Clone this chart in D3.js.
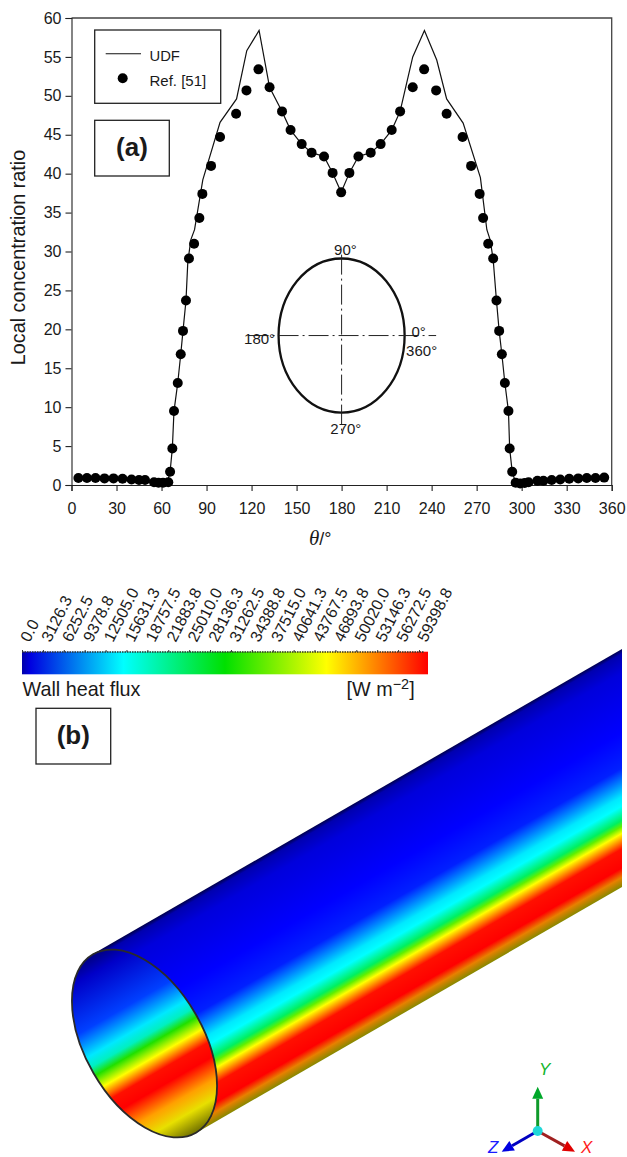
<!DOCTYPE html>
<html>
<head>
<meta charset="utf-8">
<script src="https://cdn.jsdelivr.net/npm/d3@7"></script>
<style>
  body { margin: 0; background: #fff; }
  text { font-family: "Liberation Sans", Arial, sans-serif; fill: #1a1a1a; }
</style>
</head>
<body>
<div id="chart"></div>
<script>
// Dots, Ref. [51]
const refTheta = [4.6, 10.3, 16, 22, 28, 34, 40, 45, 49, 55, 58, 61, 64.5, 65.7, 67.2, 68.3, 70.8, 72.8, 74.3, 76.3,
  78.3, 81.7, 85.2, 87.2, 93, 99, 109.7, 116.6, 124.6, 132, 140.3, 146, 153.4, 160, 168.3, 174, 179.7,
  185.2, 191.2, 199.4, 206, 213.4, 219, 227.4, 235, 243, 250, 260.6, 266.3, 272, 274.3, 277.7, 281,
  283.2, 285, 286.8, 288.8, 291.2, 292, 293.7, 296, 299, 302, 304.6, 310.5, 314.5, 320, 325.7, 331.7, 337.7, 343.4, 349.2, 355];
const refRatio = [0.9, 0.9, 0.9, 0.85, 0.85, 0.8, 0.7, 0.65, 0.65, 0.35, 0.3, 0.3, 0.35, 1.7, 4.7, 9.5, 13.1, 16.8, 19.8, 23.7,
  29.1, 31, 34.3, 37.4, 41, 44.7, 47.7, 50.7, 53.4, 51.1, 48, 45.6, 43.8, 42.7, 42.2, 40.1, 37.6,
  40.1, 42.2, 42.7, 43.8, 45.6, 48, 51.1, 53.4, 50.7, 47.7, 44.7, 41, 37.4, 34.3, 31, 29.1,
  23.7, 19.8, 16.8, 13.1, 9.5, 4.7, 1.7, 0.3, 0.2, 0.25, 0.35, 0.55, 0.55, 0.65, 0.7, 0.8, 0.85, 0.9, 0.9, 0.95];

// Line, UDF
const udfTheta = [5, 50, 58, 64, 65.7, 67.2, 68.3, 70.8, 72.8, 74.3, 76.3, 77.5, 79.5, 82, 87.5, 99, 110, 116.8, 125,
  132, 140.3, 146, 153.4, 160, 168.3, 174, 179.7, 185.2, 191.2, 199.4, 206, 213.4, 219, 220.8, 227.4, 235.2,
  243.4, 250, 261, 272.5, 276.8, 279, 281, 283.2, 285, 286.8, 288.8, 291.2, 292, 293.7, 296, 302, 310, 355];
const udfRatio = [0.9, 0.6, 0.3, 0.4, 1.7, 4.7, 9.5, 13.1, 16.8, 19.8, 23.7, 28.6, 31.5, 32.8, 39.2, 46.6, 49.6, 55.8, 58.4,
  51.1, 48, 45.6, 43.8, 42.7, 42.2, 40.1, 37.6, 40.1, 42.2, 42.7, 43.8, 45.6, 48, 49.5, 55, 58.4,
  54.6, 49.6, 46.5, 39.5, 32.8, 31.5, 29, 23.7, 19.8, 16.8, 13.1, 9.5, 4.7, 1.7, 0.3, 0.3, 0.55, 0.95];

const xTicks = d3.range(0, 361, 30);
const yTicks = d3.range(0, 61, 5);

// Legend values of the colour bar
const fluxTicks = ["0.0", "3126.3", "6252.5", "9378.8", "12505.0", "15631.3", "18757.5", "21883.8", "25010.0", "28136.3",
  "31262.5", "34388.8", "37515.0", "40641.3", "43767.5", "46893.8", "50020.0", "53146.3", "56272.5", "59398.8"];

const width = 627;
const height = 1157;
const svg = d3.select("#chart").append("svg")
  .attr("width", width)
  .attr("height", height)
  .style("display", "block");
const defs = svg.append("defs");

// ---------- panel (a) ----------
const x = d3.scaleLinear().domain([0, 360]).range([71.5, 611.7]);
const y = d3.scaleLinear().domain([0, 60]).range([485, 18]);

svg.append("path")
  .attr("d", `M${x(0)},${y(60)}H${x(360)}V${y(0)}`)
  .attr("fill", "none")
  .attr("stroke", "#444")
  .attr("stroke-width", 1.3);

const xAxis = svg.append("g")
  .attr("transform", `translate(0,${y(0)})`)
  .call(d3.axisBottom(x).tickValues(xTicks).tickSize(6).tickPadding(12).tickFormat(d3.format("d")));
const yAxis = svg.append("g")
  .attr("transform", `translate(${x(0)},0)`)
  .call(d3.axisLeft(y).tickValues(yTicks).tickSize(6).tickPadding(4).tickFormat(d3.format("d")));
[xAxis, yAxis].forEach(a => {
  a.attr("font-family", null).attr("font-size", null);
  a.selectAll("text").style("font-size", "16px");
  a.selectAll("line, path").attr("stroke", "#222").attr("stroke-width", 1.1);
});

svg.append("text")
  .attr("transform", `translate(24.5,257.5) rotate(-90)`)
  .attr("text-anchor", "middle")
  .style("font-size", "19.8px")
  .text("Local concentration ratio");

const xLabel = svg.append("text").attr("x", 309).attr("y", 545).style("font-size", "18px");
xLabel.append("tspan").style("font-family", "'Liberation Serif', serif").style("font-style", "italic").style("font-size", "21px").text("θ");
xLabel.append("tspan").text("/°");

// inset: tube section
const insetCentre = [180, 19.2];
const insetRadius = [42, 9.9];
const chain = "20 4 2 4";
svg.append("ellipse")
  .attr("cx", x(insetCentre[0]))
  .attr("cy", y(insetCentre[1]))
  .attr("rx", x(insetRadius[0]) - x(0))
  .attr("ry", y(0) - y(insetRadius[1]))
  .attr("fill", "none")
  .attr("stroke", "#111")
  .attr("stroke-width", 2.3);
svg.append("line")
  .attr("x1", x(118)).attr("x2", x(243))
  .attr("y1", y(insetCentre[1])).attr("y2", y(insetCentre[1]))
  .attr("stroke", "#222").attr("stroke-dasharray", chain);
svg.append("line")
  .attr("x1", x(180)).attr("x2", x(180))
  .attr("y1", y(29.6)).attr("y2", y(6.6))
  .attr("stroke", "#222").attr("stroke-dasharray", chain);
const insetLabels = [["90°", 175, 29.6], ["180°", 115, 18.1], ["0°", 226.5, 19.0], ["360°", 223, 16.6], ["270°", 172.5, 6.6]];
svg.selectAll(".inset-label")
  .data(insetLabels)
  .join("text")
  .attr("class", "inset-label")
  .attr("x", d => x(d[1]))
  .attr("y", d => y(d[2]))
  .style("font-size", "15px")
  .text(d => d[0]);

// curves
const line = d3.line().x(d => x(d[0])).y(d => y(d[1]));
svg.append("path")
  .attr("d", line(udfTheta.map((t, i) => [t, udfRatio[i]])))
  .attr("fill", "none")
  .attr("stroke", "#111")
  .attr("stroke-width", 1.2);
svg.selectAll(".dot")
  .data(refTheta.map((t, i) => [t, refRatio[i]]))
  .join("circle")
  .attr("class", "dot")
  .attr("cx", d => x(d[0]))
  .attr("cy", d => y(d[1]))
  .attr("r", 5)
  .attr("fill", "#000");

// legend and panel boxes
function box(x0, y0, w, h) {
  svg.append("rect").attr("x", x0).attr("y", y0).attr("width", w).attr("height", h)
    .attr("fill", "none").attr("stroke", "#222").attr("stroke-width", 1.3);
}
box(94.7, 30, 126, 73.3);
svg.append("line").attr("x1", 105.7).attr("x2", 141).attr("y1", 53.7).attr("y2", 53.7).attr("stroke", "#111").attr("stroke-width", 1.1);
svg.append("text").attr("x", 149.5).attr("y", 61).style("font-size", "14.8px").text("UDF");
svg.append("circle").attr("cx", 122.7).attr("cy", 78.3).attr("r", 5).attr("fill", "#000");
svg.append("text").attr("x", 149.5).attr("y", 86).style("font-size", "15px").text("Ref. [51]");

box(94.7, 120.3, 74.6, 55.7);
svg.append("text").attr("x", 132).attr("y", 156).attr("text-anchor", "middle")
  .style("font-size", "26px").style("font-weight", "bold").text("(a)");

// ---------- panel (b) ----------
box(36, 708.3, 74.7, 55.7);
svg.append("text").attr("x", 73.3).attr("y", 744).attr("text-anchor", "middle")
  .style("font-size", "26px").style("font-weight", "bold").text("(b)");

// colour bar
const fluxMax = +fluxTicks[fluxTicks.length - 1];
const fx = d3.scaleLinear().domain([0, fluxMax]).range([22, 419]);
const barEnd = fx.invert(428);
const flux = d3.scaleLinear()
  .domain([0, 0.02, 0.25, 0.5, 0.75, 1].map(f => f * barEnd))
  .range(["#0000a8", "#0000e0", "#00ffff", "#00e000", "#ffff00", "#ff0000"]);

const barGrad = defs.append("linearGradient").attr("id", "barGrad");
barGrad.selectAll("stop")
  .data(flux.domain())
  .join("stop")
  .attr("offset", d => d / barEnd)
  .attr("stop-color", d => flux(d));
svg.append("rect")
  .attr("x", fx(0)).attr("y", 651.7)
  .attr("width", fx(barEnd) - fx(0)).attr("height", 22.6)
  .attr("fill", "url(#barGrad)");

const fluxAxis = svg.append("g")
  .attr("transform", "translate(0,652)")
  .call(d3.axisTop(fx).tickValues(fluxTicks.map(Number)).tickSize(2).tickFormat((d, i) => fluxTicks[i]));
fluxAxis.attr("font-family", null).attr("font-size", null);
fluxAxis.select(".domain").attr("d", "M22,0H424").attr("stroke", "#333").attr("stroke-width", 1.4).attr("stroke-dasharray", "1.5 1");
fluxAxis.selectAll("line").attr("stroke", "#333");
fluxAxis.selectAll("text")
  .attr("text-anchor", "start")
  .attr("dy", "0")
  .attr("x", 0).attr("y", 0)
  .attr("transform", "translate(7,-9) rotate(-63)")
  .style("font-size", "16px");

svg.append("text").attr("x", 22.5).attr("y", 696).style("font-size", "19.8px").text("Wall heat flux");
const unit = svg.append("text").attr("x", 346.5).attr("y", 696).style("font-size", "19.8px");
unit.append("tspan").text("[W m");
unit.append("tspan").attr("dy", -7).style("font-size", "14.5px").text("−2");
unit.append("tspan").attr("dy", 7).text("]");

// tube, shown as a picture: bands run along the axis at 30 degrees
const outerStops = [
  [0, "#000050"], [0.02, "#0000b0"], [0.1, "#0000dc"], [0.35, "#0000ff"], [0.5, "#0020ff"], [0.62, "#00e8ff"],
  [0.66, "#00ffff"], [0.72, "#00f060"], [0.745, "#60f000"], [0.775, "#ffff00"], [0.84, "#ff1000"], [0.92, "#ff0000"],
  [0.96, "#e88000"], [1, "#888800"]];
const innerStops = [
  [0, "#000080"], [0.08, "#0000c8"], [0.3, "#0040ff"], [0.42, "#00e8ff"], [0.47, "#00f0c0"], [0.515, "#20e000"],
  [0.58, "#ffff00"], [0.65, "#ff1000"], [0.72, "#ff0000"], [0.82, "#ffa000"], [0.9, "#e8e000"], [1, "#707000"]];

function bandGradient(id, stops, x1, y1, x2, y2) {
  const g = defs.append("linearGradient").attr("id", id).attr("gradientUnits", "userSpaceOnUse")
    .attr("x1", x1).attr("y1", y1).attr("x2", x2).attr("y2", y2);
  g.selectAll("stop").data(stops).join("stop")
    .attr("offset", d => d[0]).attr("stop-color", d => d[1]);
}
bandGradient("outerGrad", outerStops, 622, 649, 725, 827.4);
// the ellipse is rotated, so its gradient runs along its own long axis
bandGradient("innerGrad", innerStops, -103, 0, 103, 0);

svg.append("path")
  .attr("d", "M93,954L622,649V887L196,1133Z")
  .attr("fill", "url(#outerGrad)");
svg.append("ellipse")
  .attr("transform", "translate(144.5,1043.5) rotate(60)")
  .attr("rx", 103).attr("ry", 59)
  .attr("fill", "url(#innerGrad)")
  .attr("stroke", "#2a2a2a")
  .attr("stroke-width", 1.8);

// triad
const origin = [537.7, 1131];
const arrows = [
  { tip: [537.7, 1086.7], color: "#0f9a2a", head: "#00a82a", label: "Y", lx: 539, ly: 1075, fill: "#12b52a" },
  { tip: [501.7, 1151.7], color: "#0000c0", head: "#0000e0", label: "Z", lx: 488, ly: 1153, fill: "#1a1aff" },
  { tip: [575, 1151.7], color: "#a02020", head: "#e00000", label: "X", lx: 581, ly: 1153, fill: "#ff1a1a" }
];
arrows.forEach(a => {
  const ang = Math.atan2(a.tip[1] - origin[1], a.tip[0] - origin[0]);
  const back = [a.tip[0] - 12 * Math.cos(ang), a.tip[1] - 12 * Math.sin(ang)];
  const nx = -Math.sin(ang) * 5.5, ny = Math.cos(ang) * 5.5;
  svg.append("line")
    .attr("x1", origin[0]).attr("y1", origin[1]).attr("x2", back[0]).attr("y2", back[1])
    .attr("stroke", a.color).attr("stroke-width", 3);
  svg.append("path")
    .attr("d", `M${a.tip[0]},${a.tip[1]}L${back[0] + nx},${back[1] + ny}L${back[0] - nx},${back[1] - ny}Z`)
    .attr("fill", a.head);
  svg.append("text").attr("x", a.lx).attr("y", a.ly)
    .style("font-size", "17px").style("font-style", "italic").style("fill", a.fill).text(a.label);
});
svg.append("circle").attr("cx", origin[0]).attr("cy", origin[1]).attr("r", 5).attr("fill", "#20d8d8");
</script>
</body>
</html>
